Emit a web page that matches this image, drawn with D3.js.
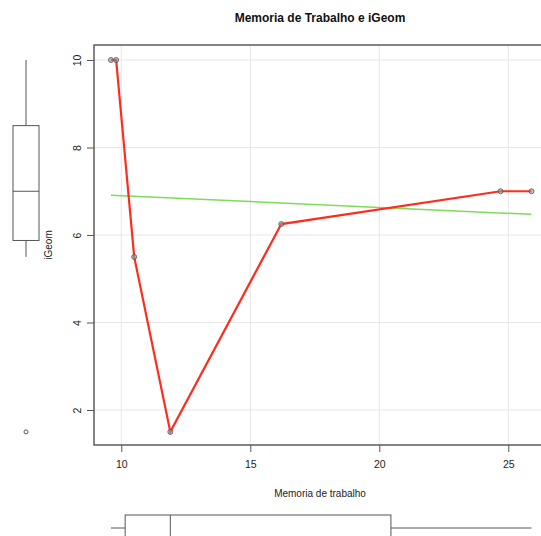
<!DOCTYPE html>
<html lang="en">
<head>
    <meta charset="UTF-8">
    <title>Memoria de Trabalho e iGeom</title>
    <script src="https://d3js.org/d3.v7.min.js"></script>
    <style>
        body { margin: 0; background: white; }
        text { font-family: "Liberation Sans", Arial, sans-serif; }
    </style>
</head>
<body>
<svg id="main" width="541" height="536"></svg>
<script>
    // data
    let memoria = [9.6, 9.8, 10.5, 11.9, 16.2, 24.7, 25.9];
    let igeom = [10, 10, 5.5, 1.5, 6.25, 7, 7];
    let xTicks = [10, 15, 20, 25];
    let yTicks = [2, 4, 6, 8, 10];

    let svg = d3.select('svg#main');
    let box = {left: 94, top: 45, right: 547, bottom: 445};

    // scales
    let x = d3.scaleLinear().domain([10, 25]).range([121.3, 508.3]);
    let y = d3.scaleLinear().domain([2, 10]).range([410, 60]);

    // grid
    let grid = svg.append('g').attr('stroke', '#e6e6e6').attr('stroke-width', 1);
    grid.selectAll('line.gx').data(xTicks).enter().append('line')
        .attr('x1', d => x(d)).attr('x2', d => x(d))
        .attr('y1', box.top).attr('y2', box.bottom);
    grid.selectAll('line.gy').data(yTicks).enter().append('line')
        .attr('x1', box.left).attr('x2', box.right)
        .attr('y1', d => y(d)).attr('y2', d => y(d));

    // regression line (least squares of iGeom on memoria)
    let mx = d3.mean(memoria), my = d3.mean(igeom);
    let sxy = d3.sum(memoria, (v, i) => (v - mx) * (igeom[i] - my));
    let sxx = d3.sum(memoria, v => (v - mx) * (v - mx));
    let slope = sxy / sxx, icpt = my - slope * mx;
    let xr = d3.extent(memoria);
    svg.append('path')
        .datum(xr.map(v => [v, icpt + slope * v]))
        .attr('d', d3.line().x(d => x(d[0])).y(d => y(d[1])))
        .attr('fill', 'none').attr('stroke', '#7ddc5a').attr('stroke-width', 1.5);

    // red line through points
    let pts = memoria.map((v, i) => [v, igeom[i]]);
    svg.append('path')
        .datum(pts)
        .attr('d', d3.line().x(d => x(d[0])).y(d => y(d[1])))
        .attr('fill', 'none').attr('stroke', '#ff2b1c').attr('stroke-width', 2.2);

    svg.selectAll('circle.pt').data(pts).enter().append('circle')
        .attr('cx', d => x(d[0])).attr('cy', d => y(d[1])).attr('r', 2.5)
        .attr('fill', '#999').attr('fill-opacity', 0.6)
        .attr('stroke', '#555').attr('stroke-width', 0.8);

    // plot frame
    svg.append('rect')
        .attr('x', box.left).attr('y', box.top)
        .attr('width', box.right - box.left).attr('height', box.bottom - box.top)
        .attr('fill', 'none').attr('stroke', '#444').attr('stroke-width', 1.3);

    // axes
    let xAxis = svg.append('g')
        .attr('transform', 'translate(0,' + box.bottom + ')')
        .call(d3.axisBottom(x).tickValues(xTicks).tickSize(7).tickPadding(9));
    let yAxis = svg.append('g')
        .attr('transform', 'translate(' + box.left + ',0)')
        .call(d3.axisLeft(y).tickValues(yTicks).tickSize(7));
    [xAxis, yAxis].forEach(function (a) {
        a.select('.domain').remove();
        a.selectAll('line').attr('stroke', '#555');
        a.selectAll('text').attr('font-size', 10.5).attr('fill', '#222')
            .style('font-family', '"Liberation Sans", Arial, sans-serif');
    });
    // R draws the y labels rotated
    yAxis.selectAll('text')
        .attr('x', null).attr('text-anchor', 'middle').attr('dy', '0.35em')
        .attr('transform', 'translate(-17,0) rotate(-90)');

    // titles
    svg.append('text').attr('x', 320).attr('y', 22).attr('text-anchor', 'middle')
        .attr('font-size', 12).attr('font-weight', 'bold').attr('fill', '#111')
        .text('Memoria de Trabalho e iGeom');
    svg.append('text').attr('x', 320).attr('y', 497).attr('text-anchor', 'middle')
        .attr('font-size', 10).attr('fill', '#222')
        .text('Memoria de trabalho');
    svg.append('text').attr('transform', 'translate(52,245) rotate(-90)')
        .attr('text-anchor', 'middle').attr('font-size', 10).attr('fill', '#222')
        .text('iGeom');

    // boxplot helper (Tukey hinges like R fivenum)
    function boxStats(vals) {
        let s = vals.slice().sort(d3.ascending);
        let n = s.length;
        let med = d3.median(s);
        let half = Math.floor((n + 1) / 2);
        let lo = d3.median(s.slice(0, half));
        let hi = d3.median(s.slice(n - half));
        let iqr = hi - lo;
        let inside = s.filter(v => v >= lo - 1.5 * iqr && v <= hi + 1.5 * iqr);
        let out = s.filter(v => v < lo - 1.5 * iqr || v > hi + 1.5 * iqr);
        return {lo: lo, med: med, hi: hi, wlo: d3.min(inside), whi: d3.max(inside), out: out};
    }

    // vertical boxplot of iGeom on the left
    let by = boxStats(igeom);
    let vb = svg.append('g').attr('stroke', '#555').attr('stroke-width', 1).attr('fill', 'none');
    let cx = 26, bw = 13;
    vb.append('line').attr('x1', cx).attr('x2', cx).attr('y1', y(by.whi)).attr('y2', y(by.hi));
    vb.append('line').attr('x1', cx).attr('x2', cx).attr('y1', y(by.lo)).attr('y2', y(by.wlo));
    vb.append('rect').attr('x', cx - bw).attr('width', 2 * bw)
        .attr('y', y(by.hi)).attr('height', y(by.lo) - y(by.hi)).attr('fill', 'white');
    vb.append('line').attr('x1', cx - bw).attr('x2', cx + bw).attr('y1', y(by.med)).attr('y2', y(by.med));
    vb.selectAll('circle').data(by.out).enter().append('circle')
        .attr('cx', cx).attr('cy', d => y(d)).attr('r', 2);

    // horizontal boxplot of memoria at the bottom
    let bx = boxStats(memoria);
    let hb = svg.append('g').attr('stroke', '#555').attr('stroke-width', 1).attr('fill', 'none');
    let cy = 528, bh = 13;
    hb.append('line').attr('y1', cy).attr('y2', cy).attr('x1', x(bx.wlo)).attr('x2', x(bx.lo));
    hb.append('line').attr('y1', cy).attr('y2', cy).attr('x1', x(bx.hi)).attr('x2', x(bx.whi));
    hb.append('rect').attr('y', cy - bh).attr('height', 2 * bh)
        .attr('x', x(bx.lo)).attr('width', x(bx.hi) - x(bx.lo)).attr('fill', 'white');
    hb.append('line').attr('y1', cy - bh).attr('y2', cy + bh).attr('x1', x(bx.med)).attr('x2', x(bx.med));
    hb.selectAll('circle').data(bx.out).enter().append('circle')
        .attr('cy', cy).attr('cx', d => x(d)).attr('r', 2);
</script>
</body>
</html>
